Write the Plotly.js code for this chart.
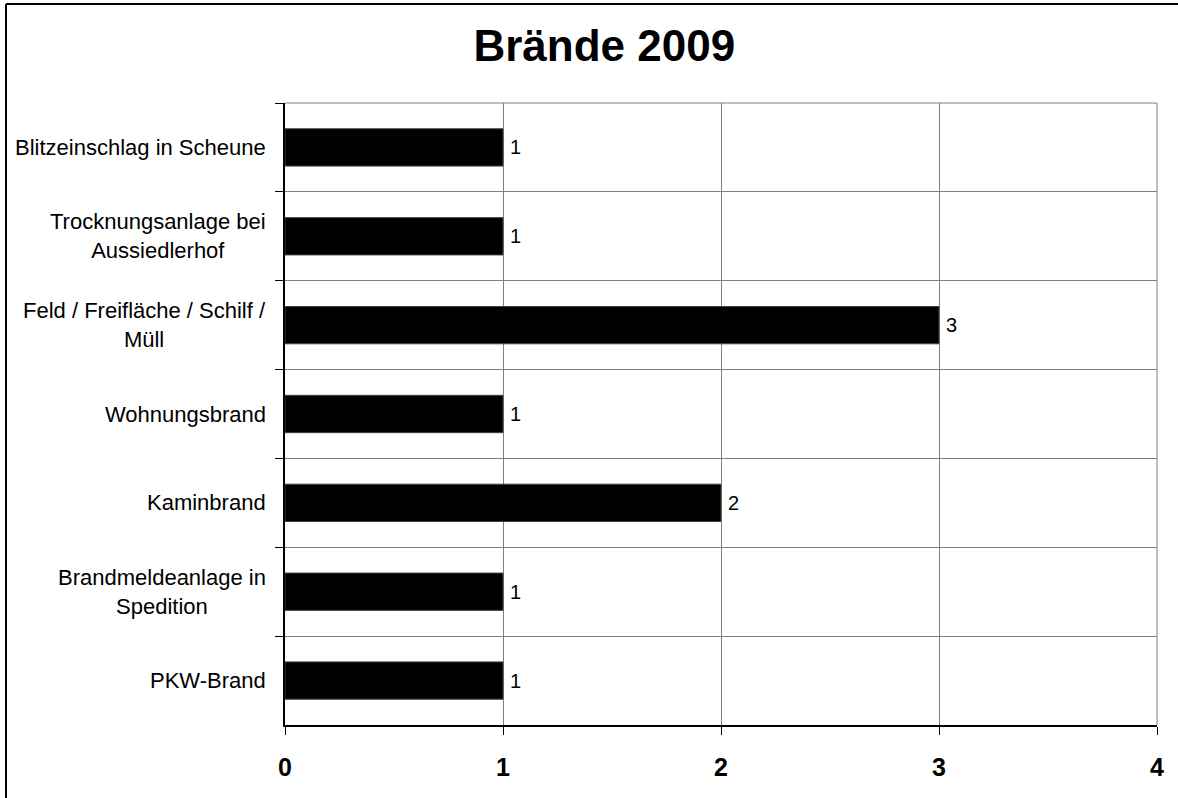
<!DOCTYPE html>
<html>
<head>
<meta charset="utf-8">
<script src="https://cdn.plot.ly/plotly-3.0.1.min.js"></script>
<style>
html,body{margin:0;padding:0;background:#fff;overflow:hidden;}
#chart{width:1178px;height:798px;position:absolute;left:0;top:0;}
</style>
</head>
<body>
<div id="chart"></div>
<script>
const categories = [
  "Blitzeinschlag in Scheune",
  "Trocknungsanlage bei<br>Aussiedlerhof",
  "Feld / Freifläche / Schilf /<br>Müll",
  "Wohnungsbrand",
  "Kaminbrand",
  "Brandmeldeanlage in<br>Spedition",
  "PKW-Brand"
];
const values = [1, 1, 3, 1, 2, 1, 1];
const xTicks = [0, 1, 2, 3, 4];
const titleText = "Brände 2009";

const FONT = "'Liberation Sans', Arial, sans-serif";
const ids = categories.map((c, i) => "c" + i);

const W = 1178, H = 798;
const M = {l: 285, r: 21, t: 103, b: 73};
const pw = W - M.l - M.r, ph = H - M.t - M.b;
// outer frame (left/top edges visible), converted to paper coordinates
const fx = (6 - M.l) / pw, fy = (H - M.b - 4) / ph;

const trace = {
  type: "bar",
  orientation: "h",
  y: ids,
  x: values,
  cliponaxis: false,
  marker: {color: "#000", line: {color: "#404040", width: 1}},
  hoverinfo: "none"
};

const catLabels = categories.map((c, i) => ({
  xref: "paper", yref: "y",
  x: -0.019, y: ids[i],
  xanchor: "right", yanchor: "middle",
  align: "center",
  text: c,
  showarrow: false,
  font: {family: FONT, size: 22, color: "#000"}
}));

const valueLabels = values.map((v, i) => ({
  xref: "x", yref: "y",
  x: v, y: ids[i],
  xanchor: "left", yanchor: "middle",
  xshift: 5,
  text: String(v),
  showarrow: false,
  font: {family: FONT, size: 20, color: "#000"}
}));

const layout = {
  width: W, height: H,
  margin: M,
  paper_bgcolor: "#fff", plot_bgcolor: "#fff",
  showlegend: false,
  bargap: 0.58,
  title: {
    text: "<b>" + titleText + "</b>",
    font: {family: FONT, size: 44, color: "#000"},
    x: 0.513, xanchor: "center",
    y: 0.943, yanchor: "middle"
  },
  xaxis: {
    range: [0, 4],
    tickvals: xTicks,
    ticktext: xTicks.map(v => "<b>" + v + "</b>"),
    tickfont: {family: FONT, size: 25, color: "#000"},
    ticks: "outside", ticklen: 8, tickcolor: "#000", tickwidth: 1,
    ticklabelstandoff: 11,
    showline: true, linecolor: "#000", linewidth: 2,
    showgrid: true, gridcolor: "#808080", gridwidth: 1,
    zeroline: false, fixedrange: true
  },
  yaxis: {
    type: "category",
    categoryorder: "array", categoryarray: ids,
    autorange: "reversed",
    tickson: "boundaries",
    ticks: "outside", ticklen: 8, tickcolor: "#000", tickwidth: 1,
    showticklabels: false,
    showline: true, linecolor: "#000", linewidth: 2,
    showgrid: true, gridcolor: "#808080", gridwidth: 1,
    zeroline: false, fixedrange: true
  },
  shapes: [
    {type: "line", xref: "paper", yref: "paper", x0: 0, x1: 1, y0: 1, y1: 1,
     line: {color: "#808080", width: 1}},
    {type: "line", xref: "paper", yref: "paper", x0: 1, x1: 1, y0: 0, y1: 1,
     line: {color: "#808080", width: 1}},
    {type: "line", xref: "paper", yref: "paper", x0: fx, x1: fx, y0: -0.2, y1: fy,
     line: {color: "#000", width: 2}},
    {type: "line", xref: "paper", yref: "paper", x0: fx, x1: 1.1, y0: fy, y1: fy,
     line: {color: "#000", width: 2}}
  ],
  annotations: catLabels.concat(valueLabels)
};

Plotly.newPlot("chart", [trace], layout, {displayModeBar: false, staticPlot: true});
</script>
</body>
</html>
